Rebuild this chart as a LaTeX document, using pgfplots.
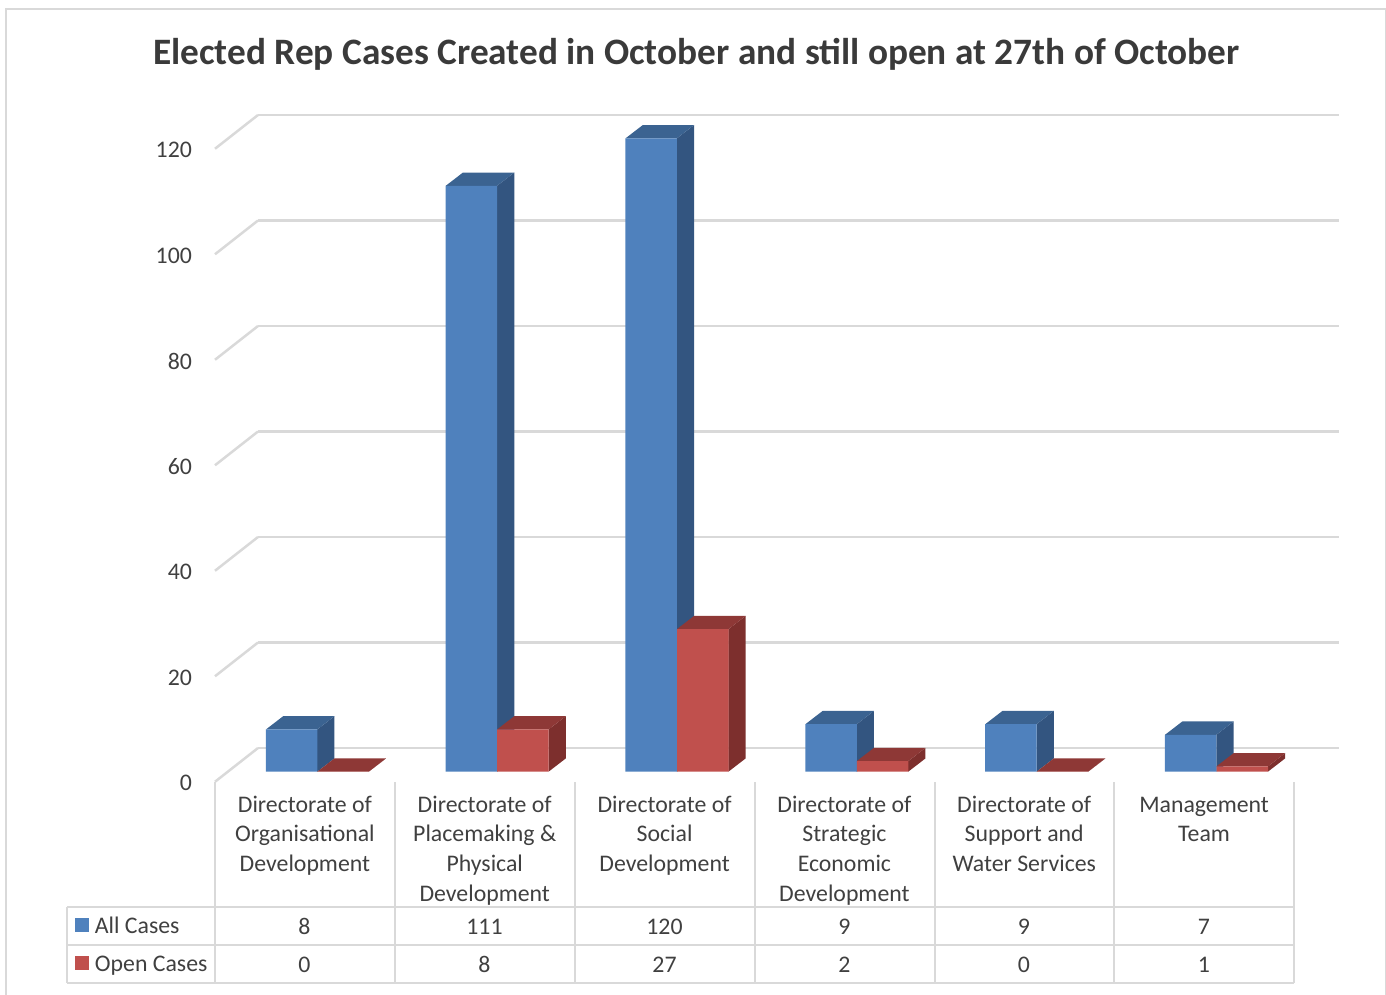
\documentclass[border=0pt]{standalone}
\usepackage{fontspec}
\setmainfont{Carlito}
\usepackage{pgfplots}
\usepackage{pgfplotstable}
\pgfplotsset{compat=1.18}
\definecolor{gridc}{HTML}{D9D9D9}
\definecolor{textc}{HTML}{404040}
\definecolor{bluefront}{HTML}{4F81BD}
\definecolor{bluetop}{HTML}{3B6391}
\definecolor{blueside}{HTML}{335580}
\definecolor{redfront}{HTML}{C0504D}
\definecolor{redtop}{HTML}{8E3836}
\definecolor{redside}{HTML}{7D2F2D}

\pgfplotstableread{
pos all open
0.5 8 0
1.5 111 8
2.5 120 27
3.5 9 2
4.5 9 0
5.5 7 1
}\cases

% side and top face of a bar: position, left offset, right offset, value, colour stem
\newcommand{\faces}[5]{
  \addplot[fill=#5side,draw=none] coordinates {({#1+#3},0) ({#1+#3+0.096},2.52) ({#1+#3+0.096},{#4+2.52}) ({#1+#3},#4)};
  \addplot[fill=#5top,draw=none] coordinates {({#1+#2},#4) ({#1+#3},#4) ({#1+#3+0.096},{#4+2.52}) ({#1+#2+0.096},{#4+2.52})};
}
\newcommand{\tabfont}{\fontsize{11.9}{14.85}\selectfont\color{textc}}

\begin{document}
\begin{tikzpicture}[x=0.5pt,y=-0.5pt]
\useasboundingbox (0,0) rectangle (1386,995);
% chart frame
\draw[gridc,line width=1pt] (6,995) -- (6,9) -- (1385.5,9) -- (1385.5,995);
\node[font=\fontsize{18.65}{22}\selectfont\bfseries,text=textc!90!black] at (696.5,54) {Elected Rep Cases Created in October and still open at 27th of October};

% back wall with gridlines and the value axis
\begin{axis}[
  at={(129pt,-374pt)}, anchor=south west,
  scale only axis, width=540.5pt, height=316.5pt,
  xmin=258, xmax=1339, ymin=0, ymax=120,
  clip=false,
  axis line style={draw=none},
  xtick=\empty,
  ytick={0,20,...,120},
  ymajorgrids,
  grid style={gridc,line width=1.25pt},
  major tick length=0pt,
  /pgf/number format/assume math mode=true,
  yticklabel style={font=\tabfont,xshift=-29.5pt,yshift=-17.5pt},
]
\pgfplotsinvokeforeach{0,20,...,120}{
  \addplot[gridc,line width=1.25pt] coordinates {(215,{#1-6.4}) (258,#1)};
}
\end{axis}

% bars stand half way into the depth
\begin{axis}[
  at={(107.5pt,-385.85pt)}, anchor=south west,
  scale only axis, width=539.5pt, height=316.7pt,
  xmin=0, xmax=6, ymin=0, ymax=120,
  clip=false,
  axis line style={draw=none},
  ytick=\empty,
  xtick={0.5,1.5,2.5,3.5,4.5,5.5},
  xticklabels={
    {Directorate of\\Organisational\\Development},
    {Directorate of\\Placemaking \&\\Physical\\Development},
    {Directorate of\\Social\\Development},
    {Directorate of\\Strategic\\Economic\\Development},
    {Directorate of\\Support and\\Water Services},
    {\vphantom{f}Management\\Team}},
  major tick length=0pt,
  xticklabel style={font=\tabfont,align=center,anchor=north,yshift=-8.5pt},
]
\faces{0.5}{-0.2169}{0.0684}{8}{blue}
\faces{1.5}{-0.2169}{0.0684}{111}{blue}
\faces{2.5}{-0.2169}{0.0684}{120}{blue}
\faces{3.5}{-0.2169}{0.0684}{9}{blue}
\faces{4.5}{-0.2169}{0.0684}{9}{blue}
\faces{5.5}{-0.2169}{0.0684}{7}{blue}
\addplot[ybar,bar width=25.75pt,bar shift=-6.7pt,fill=bluefront,draw=none] table[x=pos,y=all] {\cases};
\faces{0.5}{0.0684}{0.3548}{0}{red}
\faces{1.5}{0.0684}{0.3548}{8}{red}
\faces{2.5}{0.0684}{0.3548}{27}{red}
\faces{3.5}{0.0684}{0.3548}{2}{red}
\faces{4.5}{0.0684}{0.3548}{0}{red}
\faces{5.5}{0.0684}{0.3548}{1}{red}
\addplot[ybar,bar width=25.75pt,bar shift=19.1pt,fill=redfront,draw=none] table[x=pos,y=open] {\cases};
\end{axis}

% data table under the chart
\begin{scope}[gridc,line width=1.25pt]
\draw (67,907) -- (1294,907);
\draw (67,945) -- (1294,945);
\draw (67,983) -- (1294,983);
\draw (67,907) -- (67,983);
\foreach \x in {215,395,575,755,935,1114,1294}
  \draw (\x,782) -- (\x,983);
\end{scope}
\fill[bluefront] (75,918) rectangle (89,932);
\fill[redfront] (75,956) rectangle (89,970);
\node[font=\tabfont,anchor=base west,inner sep=0pt] at (94.5,933) {All Cases};
\node[font=\tabfont,anchor=base west,inner sep=0pt] at (94.5,971) {Open Cases};
\foreach \x/\a/\b in {304.5/8/0,484.5/111/8,664.5/120/27,844.5/9/2,1024/9/0,1204/7/1} {
  \node[font=\tabfont,anchor=base,inner sep=0pt] at (\x,934) {\a};
  \node[font=\tabfont,anchor=base,inner sep=0pt] at (\x,972) {\b};
}
\end{tikzpicture}
\end{document}
